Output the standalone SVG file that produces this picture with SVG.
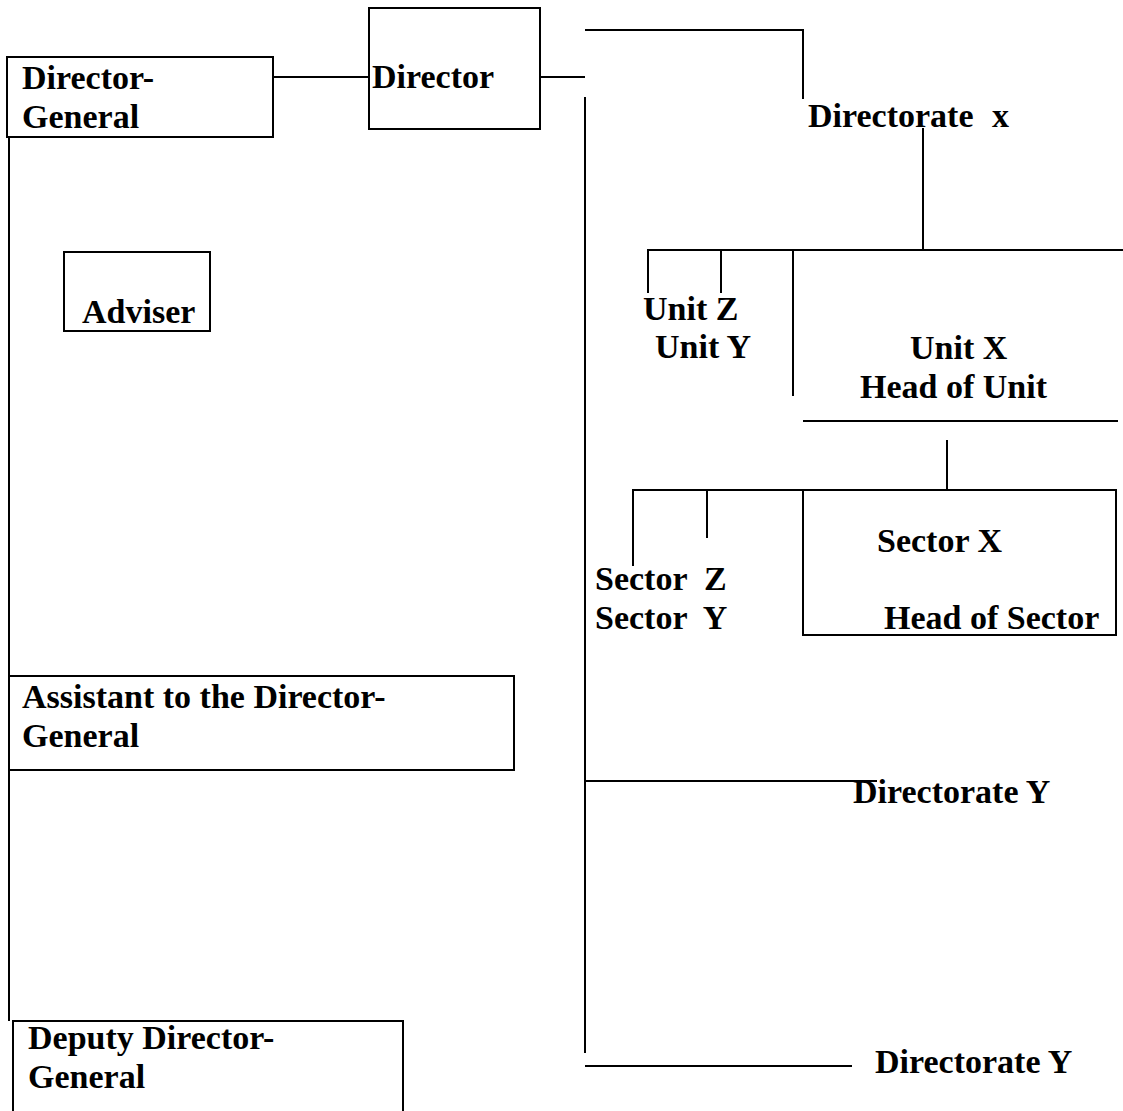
<svg xmlns="http://www.w3.org/2000/svg" width="1123" height="1111" viewBox="0 0 1123 1111">
<style>
  .box { fill: none; stroke: #000; stroke-width: 2; }
  .ln { fill: none; stroke: #000; stroke-width: 2; }
  .t { font-family: "Liberation Serif", "Times New Roman", serif; font-weight: bold; font-size: 34px; fill: #000; }
</style>
<rect width="1123" height="1111" fill="#fff"/>
<g id="connectors">
  <line class="ln" x1="273" y1="77" x2="369" y2="77"/>
  <line class="ln" x1="540" y1="77" x2="585" y2="77"/>
  <polyline class="ln" points="585,30 803,30 803,99"/>
  <line class="ln" x1="585" y1="97" x2="585" y2="1053"/>
  <line class="ln" x1="585" y1="781" x2="877" y2="781"/>
  <line class="ln" x1="585" y1="1066" x2="852" y2="1066"/>
  <line class="ln" x1="923" y1="128" x2="923" y2="250"/>
  <line class="ln" x1="648" y1="250" x2="1123" y2="250"/>
  <line class="ln" x1="648" y1="249" x2="648" y2="293"/>
  <line class="ln" x1="721" y1="250" x2="721" y2="293"/>
  <line class="ln" x1="793" y1="250" x2="793" y2="396"/>
  <line class="ln" x1="947" y1="440" x2="947" y2="490"/>
  <line class="ln" x1="633" y1="490" x2="803" y2="490"/>
  <line class="ln" x1="633" y1="489" x2="633" y2="566"/>
  <line class="ln" x1="707" y1="490" x2="707" y2="538"/>
  <line class="ln" x1="9" y1="137" x2="9" y2="1021"/>
</g>
<g id="director-general">
  <rect class="box" x="7" y="57" width="266" height="80"/>
  <text class="t" x="22" y="89">Director-</text>
  <text class="t" x="22" y="128">General</text>
</g>
<g id="director">
  <rect class="box" x="369" y="8" width="171" height="121"/>
  <text class="t" x="372" y="88">Director</text>
</g>
<g id="directorate-x">
  <text class="t" x="808" y="127">Directorate<tspan x="992">x</tspan></text>
</g>
<g id="adviser">
  <rect class="box" x="64" y="252" width="146" height="79"/>
  <text class="t" x="82" y="323">Adviser</text>
</g>
<g id="unit-z">
  <text class="t" x="643" y="320">Unit Z</text>
</g>
<g id="unit-y">
  <text class="t" x="655" y="358">Unit Y</text>
</g>
<g id="unit-x">
  <line class="ln" x1="803" y1="421" x2="1118" y2="421"/>
  <text class="t" x="910" y="359">Unit X</text>
  <text class="t" x="860" y="398">Head of Unit</text>
</g>
<g id="sector-x">
  <rect class="box" x="803" y="490" width="313" height="145"/>
  <text class="t" x="877" y="552">Sector X</text>
  <text class="t" x="884" y="629">Head of Sector</text>
</g>
<g id="sector-z">
  <text class="t" x="595" y="590" xml:space="preserve">Sector  Z</text>
</g>
<g id="sector-y">
  <text class="t" x="595" y="629" xml:space="preserve">Sector  Y</text>
</g>
<g id="assistant">
  <rect class="box" x="9" y="676" width="505" height="94"/>
  <text class="t" x="22" y="708">Assistant to the Director-</text>
  <text class="t" x="22" y="747">General</text>
</g>
<g id="directorate-y-1">
  <text class="t" x="853" y="803">Directorate Y</text>
</g>
<g id="directorate-y-2">
  <text class="t" x="875" y="1073">Directorate Y</text>
</g>
<g id="deputy-director-general">
  <polyline class="box" points="13,1112 13,1021 403,1021 403,1112"/>
  <text class="t" x="28" y="1049">Deputy Director-</text>
  <text class="t" x="28" y="1088">General</text>
</g>
</svg>
